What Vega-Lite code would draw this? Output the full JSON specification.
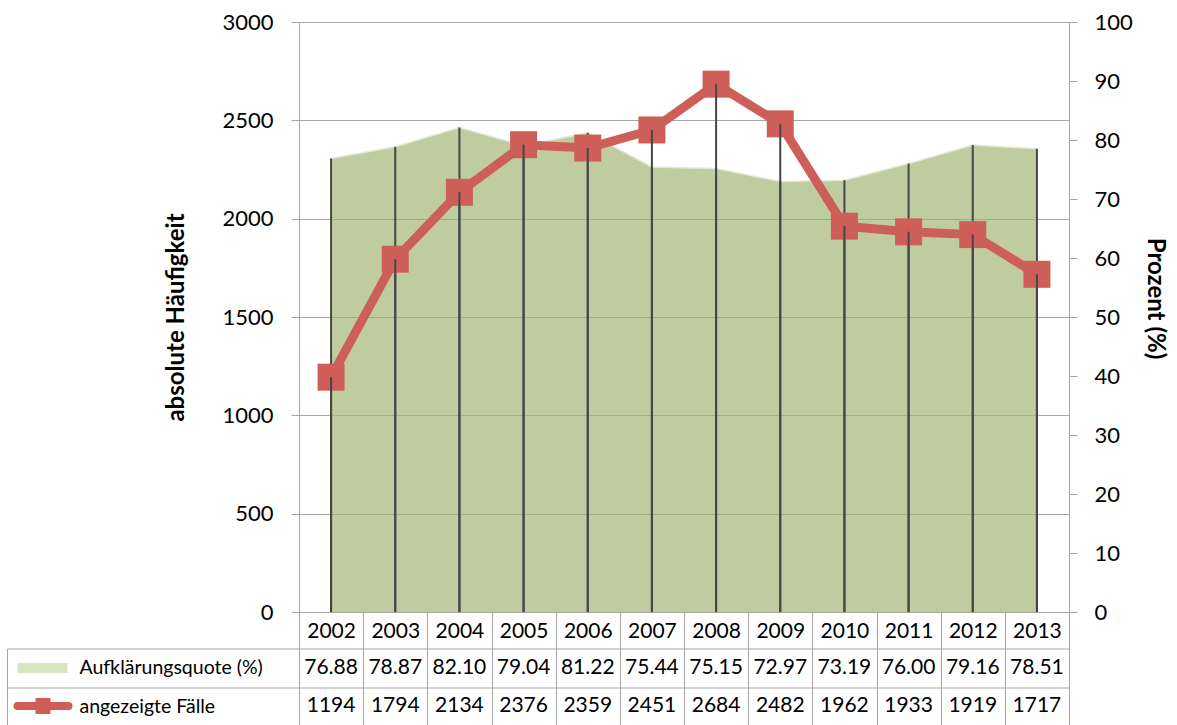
{
  "$schema": "https://vega.github.io/schema/vega-lite/v6.json",
  "padding": {"left": 6, "top": 11, "right": 5, "bottom": 0},
  "bounds": "flush",
  "spacing": 36.5,
  "config": {
    "font": "Lato",
    "view": {"stroke": null},
    "axis": {"labelFont": "Lato", "titleFont": "Lato", "labelColor": "#000000", "titleColor": "#000000"}
  },
  "datasets": {
    "main": [
      {"year": 2002, "quote": 76.88, "faelle": 1194},
      {"year": 2003, "quote": 78.87, "faelle": 1794},
      {"year": 2004, "quote": 82.10, "faelle": 2134},
      {"year": 2005, "quote": 79.04, "faelle": 2376},
      {"year": 2006, "quote": 81.22, "faelle": 2359},
      {"year": 2007, "quote": 75.44, "faelle": 2451},
      {"year": 2008, "quote": 75.15, "faelle": 2684},
      {"year": 2009, "quote": 72.97, "faelle": 2482},
      {"year": 2010, "quote": 73.19, "faelle": 1962},
      {"year": 2011, "quote": 76.00, "faelle": 1933},
      {"year": 2012, "quote": 79.16, "faelle": 1919},
      {"year": 2013, "quote": 78.51, "faelle": 1717}
    ]
  },
  "vconcat": [
    {
      "width": 770,
      "height": 590,
      "data": {"name": "main"},
      "encoding": {
        "x": {
          "field": "year", "type": "ordinal",
          "scale": {"type": "band", "paddingInner": 0, "paddingOuter": 0},
          "axis": {"title": null, "orient": "bottom", "labelAngle": 0, "tickBand": "extent", "tickSize": 36.5, "tickColor": "#A6A6A6", "domainColor": "#A6A6A6", "labelFontSize": 21, "labelPadding": -28, "grid": false}
        }
      },
      "layer": [
        {
          "mark": {"type": "area", "color": "#9DB06C", "opacity": 0.65},
          "encoding": {
            "y": {
              "field": "quote", "type": "quantitative", "scale": {"domain": [0, 100]},
              "axis": {"orient": "right", "values": [0, 10, 20, 30, 40, 50, 60, 70, 80, 90, 100], "format": "d", "title": "Prozent (%)", "titleFontSize": 24, "titleFontWeight": "bold", "titlePadding": 10, "titleY": 276, "grid": false, "tickSize": 8, "tickColor": "#A6A6A6", "domainColor": "#A6A6A6", "labelFontSize": 22, "labelPadding": 17}
            }
          }
        },
        {
          "mark": {"type": "line", "color": "#E4EAD6", "strokeWidth": 1.5},
          "encoding": {
            "y": {"field": "quote", "type": "quantitative", "scale": {"domain": [0, 100]}, "axis": null}
          }
        },
        {
          "mark": {"type": "rule", "color": "#464646", "strokeWidth": 2},
          "encoding": {
            "y": {"field": "quote", "type": "quantitative", "scale": {"domain": [0, 100]}, "axis": null},
            "y2": {"datum": 0}
          }
        },
        {
          "mark": {"type": "line", "color": "#CD5F58", "strokeWidth": 9},
          "encoding": {
            "y": {
              "field": "faelle", "type": "quantitative", "scale": {"domain": [0, 3000]},
              "axis": {"orient": "left", "values": [0, 500, 1000, 1500, 2000, 2500, 3000], "format": "d", "title": "absolute Häufigkeit", "titleFontSize": 24, "titleFontWeight": "bold", "titlePadding": 33, "grid": true, "gridColor": "#A6A6A6", "tickSize": 8, "tickColor": "#A6A6A6", "domainColor": "#A6A6A6", "labelFontSize": 22, "labelPadding": 18}
            }
          }
        },
        {
          "mark": {"type": "square", "color": "#CD5F58", "size": 729, "opacity": 1, "filled": true},
          "encoding": {
            "y": {"field": "faelle", "type": "quantitative", "scale": {"domain": [0, 3000]}, "axis": null}
          }
        },
        {
          "mark": {"type": "rule", "color": "#464646", "strokeWidth": 2},
          "encoding": {
            "y": {"field": "faelle", "type": "quantitative", "scale": {"domain": [0, 3000]}, "axis": null},
            "y2": {"datum": 0}
          }
        }
      ],
      "resolve": {"scale": {"y": "independent"}, "axis": {"y": "independent"}}
    },
    {
      "width": 770,
      "height": 77,
      "data": {"name": "main"},
      "transform": [{"fold": ["quote", "faelle"], "as": ["key", "value"]}],
      "encoding": {
        "x": {
          "field": "year", "type": "ordinal",
          "scale": {"type": "band", "paddingInner": 0, "paddingOuter": 0},
          "axis": {"orient": "top", "title": null, "labels": false, "ticks": false, "domain": false, "grid": true, "tickBand": "extent", "gridColor": "#A6A6A6", "gridOpacity": 1}
        }
      },
      "layer": [
        {
          "transform": [{"filter": "datum.key === 'quote'"}],
          "mark": {"type": "text", "fontSize": 21, "color": "#000000", "font": "Lato"},
          "encoding": {
            "y": {
              "field": "key", "type": "nominal",
              "scale": {"type": "band", "domain": ["quote", "faelle"], "paddingInner": 0, "paddingOuter": 0},
              "axis": {"orient": "left", "title": null, "domain": false, "ticks": true, "tickSize": 292, "tickColor": "#A6A6A6", "tickBand": "extent", "grid": true, "gridColor": "#A6A6A6", "gridOpacity": 1, "labelAlign": "left", "labelPadding": -72, "labelFontSize": 19.5, "labelLimit": 0, "labelExpr": "datum.value === 'quote' ? 'Aufklärungsquote (%)' : (datum.value === 'faelle' ? 'angezeigte Fälle' : '')"}
            },
            "text": {"field": "value", "type": "quantitative", "format": ".2f"}
          }
        },
        {
          "transform": [{"filter": "datum.key === 'faelle'"}],
          "mark": {"type": "text", "fontSize": 21, "color": "#000000", "font": "Lato"},
          "encoding": {
            "y": {
              "field": "key", "type": "nominal",
              "scale": {"type": "band", "domain": ["quote", "faelle"], "paddingInner": 0, "paddingOuter": 0},
              "axis": {"orient": "left", "title": null, "offset": 292, "domain": true, "domainColor": "#A6A6A6", "ticks": false, "labels": false, "grid": false}
            },
            "text": {"field": "value", "type": "quantitative", "format": "d"}
          }
        },
        {
          "mark": {"type": "text", "opacity": 0},
          "encoding": {
            "y": {
              "field": "key", "type": "nominal",
              "scale": {"type": "band", "domain": ["quote", "faelle"], "paddingInner": 0, "paddingOuter": 0},
              "axis": {"orient": "left", "title": null, "offset": 232, "values": ["quote"], "domain": false, "labels": false, "grid": false, "ticks": true, "tickSize": 50, "tickWidth": 10, "tickColor": "#D7E4BD"}
            }
          }
        },
        {
          "mark": {"type": "text", "opacity": 0},
          "encoding": {
            "y": {
              "field": "key", "type": "nominal",
              "scale": {"type": "band", "domain": ["quote", "faelle"], "paddingInner": 0, "paddingOuter": 0},
              "axis": {"orient": "left", "title": null, "offset": 231, "values": ["faelle"], "domain": false, "labels": false, "grid": false, "ticks": true, "tickSize": 51, "tickWidth": 8, "tickCap": "round", "tickColor": "#CD5F58"}
            }
          }
        },
        {
          "mark": {"type": "text", "opacity": 0},
          "encoding": {
            "y": {
              "field": "key", "type": "nominal",
              "scale": {"type": "band", "domain": ["quote", "faelle"], "paddingInner": 0, "paddingOuter": 0},
              "axis": {"orient": "left", "title": null, "offset": 249, "values": ["faelle"], "domain": false, "labels": false, "grid": false, "ticks": true, "tickSize": 15, "tickWidth": 16, "tickColor": "#CD5F58"}
            }
          }
        }
      ],
      "resolve": {"axis": {"y": "independent"}}
    }
  ]
}
